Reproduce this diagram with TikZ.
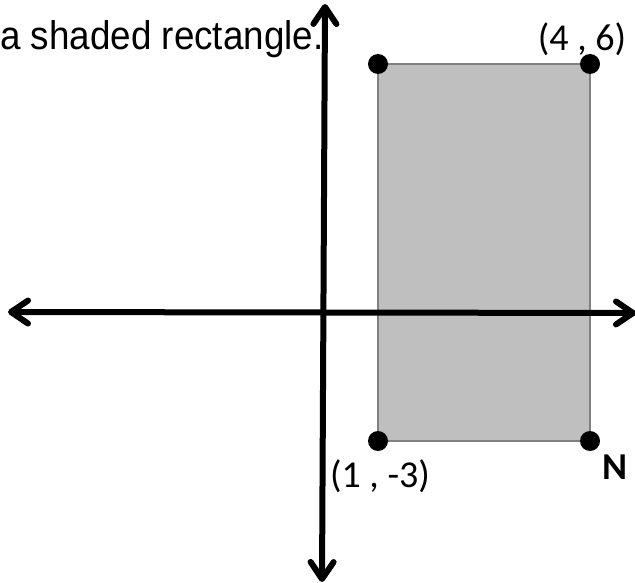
\documentclass[tikz,border=0pt]{standalone}
\usepackage{fontspec}
\setmainfont{Liberation Sans}
\newfontfamily\calibri{Carlito}
\usetikzlibrary{arrows.meta}

\begin{document}
\begin{tikzpicture}[x=1pt,y=-1pt,line width=.5pt,
  axis/.style={line width=6pt,{Straight Barb[round,length=17pt,width=23pt]}-{Straight Barb[round,length=17pt,width=23pt]}},
  dot/.style={circle,fill=black,inner sep=0pt,minimum size=20pt},
  coordlbl/.style={inner sep=0pt,font=\fontsize{38}{42}\calibri}]
\path[use as bounding box] (0,0) rectangle (635,583);
\node[anchor=base west,inner sep=0pt,xscale=.92,transform shape,font=\fontsize{40}{46}\selectfont] (caption) at (0,50) {a shaded rectangle.};
% shaded rectangle
\coordinate (tl) at (378,64);
\coordinate (tr) at (590,64);
\coordinate (br) at (590,441);
\coordinate (bl) at (378,441);
\draw[fill={rgb,255:red,191;green,191;blue,191},draw={rgb,255:red,128;green,128;blue,128},line width=2.5pt] (bl) rectangle (tr);
% axes
\coordinate (xl) at (8,312);
\coordinate (xr) at (636,313);
\coordinate (yt) at (325,4);
\coordinate (yb) at (322,582);
\draw[axis] (xl) -- (xr);
\draw[axis] (yb) -- (yt);
% corners
\node[dot] (ptl) at (tl) {};
\node[dot] (ptr) at (tr) {};
\node[dot] (pbr) at (br) {};
\node[dot] (pbl) at (bl) {};
\node[coordlbl] (ltr) at (582,39) {(4 , 6)};
\node[coordlbl] (lbl) at (380,476) {(1 , -3)};
\node[coordlbl,font=\fontsize{38}{42}\calibri\bfseries] (lbr) at (615,467) {N};
\end{tikzpicture}
\end{document}
